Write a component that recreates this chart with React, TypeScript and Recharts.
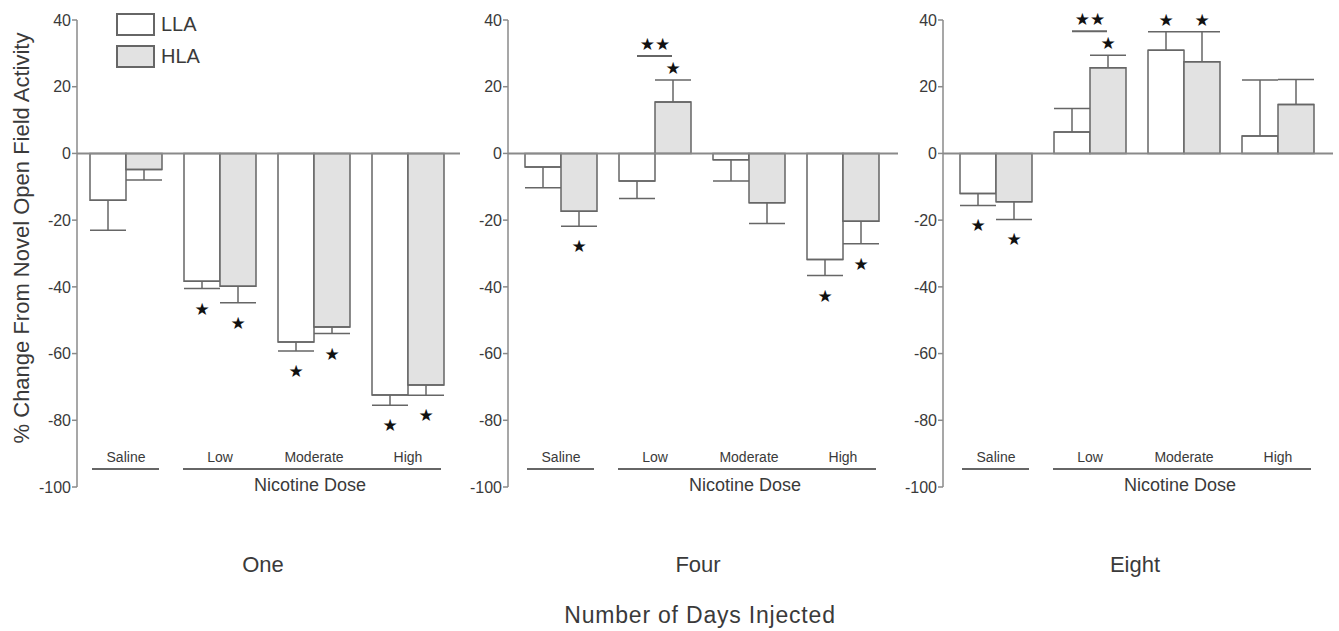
import React from 'react';
import {
  ComposedChart,
  Bar,
  Scatter,
  ErrorBar,
  XAxis,
  YAxis,
  ReferenceLine,
  Legend,
} from 'recharts';

const FONT = '"Liberation Sans", Arial, Helvetica, sans-serif';
const STAR_FONT = '"DejaVu Sans", sans-serif';

const doses = ['Saline', 'Low', 'Moderate', 'High'];
const yTicks = [-100, -80, -60, -40, -20, 0, 20, 40];

// day one
const llaOne = [-14, -38.3, -56.5, -72.4];
const llaOneErr = [9, 2.2, 2.7, 3.1];
const hlaOne = [-4.8, -39.8, -52, -69.4];
const hlaOneErr = [3.2, 5, 2, 3.1];
const llaOneSig = [false, true, true, true];
const hlaOneSig = [false, true, true, true];
const pairOneSig = [false, false, false, false];

// day four
const llaFour = [-4.1, -8.3, -1.9, -31.8];
const llaFourErr = [6.2, 5.2, 6.4, 4.8];
const hlaFour = [-17.3, 15.4, -14.8, -20.3];
const hlaFourErr = [4.5, 6.6, 6.2, 6.8];
const llaFourSig = [false, false, false, true];
const hlaFourSig = [true, true, false, true];
const pairFourSig = [false, true, false, false];

// day eight
const llaEight = [-12, 6.4, 30.9, 5.2];
const llaEightErr = [3.6, 7.1, 5.6, 16.8];
const hlaEight = [-14.5, 25.7, 27.5, 14.7];
const hlaEightErr = [5.3, 3.7, 9, 7.5];
const llaEightSig = [true, false, true, false];
const hlaEightSig = [true, true, true, false];
const pairEightSig = [false, true, false, false];

const PLOT_TOP = 20;
const PLOT_BOTTOM = 487;
const CHART_H = 510;
const BAR_W = 36;
const STROKE = '#666';
const AXIS = '#8a8a8a';
const TEXT = '#3a3a3a';

function tip(v: number, e: number) {
  return v < 0 ? v - e : v + e;
}

function buildRows(
  lla: number[], llaErr: number[], hla: number[], hlaErr: number[],
  llaSig: boolean[], hlaSig: boolean[], pairSig: boolean[]
) {
  return doses.map((dose, i) => {
    const lt = tip(lla[i], llaErr[i]);
    const ht = tip(hla[i], hlaErr[i]);
    return {
      dose,
      lla: lla[i],
      hla: hla[i],
      llaRange: lla[i] < 0 ? [llaErr[i], 0] : [0, llaErr[i]],
      hlaRange: hla[i] < 0 ? [hlaErr[i], 0] : [0, hlaErr[i]],
      llaTip: lt,
      hlaTip: ht,
      pairTip: Math.max(lt, ht),
      llaSig: llaSig[i],
      hlaSig: hlaSig[i],
      pairSig: pairSig[i],
    };
  });
}

const panels = [
  {
    title: 'One',
    rows: buildRows(llaOne, llaOneErr, hlaOne, hlaOneErr, llaOneSig, hlaOneSig, pairOneSig),
    left: 0, axisW: 77, padL: 2, padR: 5, titleX: 263, first: true,
  },
  {
    title: 'Four',
    rows: buildRows(llaFour, llaFourErr, hlaFour, hlaFourErr, llaFourSig, hlaFourSig, pairFourSig),
    left: 448, axisW: 60, padL: 6, padR: 8, titleX: 698, first: false,
  },
  {
    title: 'Eight',
    rows: buildRows(llaEight, llaEightErr, hlaEight, hlaEightErr, llaEightSig, hlaEightSig, pairEightSig),
    left: 883, axisW: 60, padL: 6, padR: 8, titleX: 1135, first: false,
  },
];

function DoseTick(props: any) {
  const { x, payload } = props;
  const v = payload.value;
  const half = 47;
  let line = null;
  if (v === 'Saline') line = [x - 34, x + 33];
  if (v === 'Low') line = [x - 37, x + half];
  if (v === 'Moderate') line = [x - half, x + half];
  if (v === 'High') line = [x - half, x + 33];
  return (
    <g>
      <text x={x} y={462} textAnchor="middle" fontSize={14} fill={TEXT} fontFamily={FONT}>
        {v}
      </text>
      {line && <line x1={line[0]} x2={line[1]} y1={469} y2={469} stroke={STROKE} strokeWidth={2} />}
      {v === 'Moderate' && (
        <text x={x - 4} y={491} textAnchor="middle" fontSize={18} fill={TEXT} fontFamily={FONT}>
          Nicotine Dose
        </text>
      )}
    </g>
  );
}

function makeStar(side: 'lla' | 'hla') {
  return (props: any) => {
    const { cx, cy, payload } = props;
    if (!payload || !payload[side + 'Sig']) return <g />;
    const dx = side === 'lla' ? -BAR_W / 2 : BAR_W / 2;
    const neg = payload[side] < 0;
    const y = neg ? cy + 20 : cy - 12;
    return (
      <text x={cx + dx} y={y} textAnchor="middle" dominantBaseline="central" fontSize={17} fill="#111" fontFamily={STAR_FONT}>
        ★
      </text>
    );
  };
}

function PairMark(props: any) {
  const { cx, cy, payload } = props;
  if (!payload || !payload.pairSig) return <g />;
  return (
    <g>
      <text x={cx} y={cy - 36} textAnchor="middle" dominantBaseline="central" fontSize={17} fill="#111" fontFamily={STAR_FONT}>
        ★★
      </text>
      <line x1={cx - 18} x2={cx + 17} y1={cy - 24} y2={cy - 24} stroke={STROKE} strokeWidth={2} />
    </g>
  );
}

function LegendBox() {
  const items = [
    { name: 'LLA', fill: '#fff' },
    { name: 'HLA', fill: '#e2e2e2' },
  ];
  return (
    <div style={{ fontFamily: FONT }}>
      {items.map((it) => (
        <div key={it.name} style={{ display: 'flex', alignItems: 'center', height: 32 }}>
          <div style={{ width: 35, height: 19, background: it.fill, border: `2px solid ${STROKE}` }} />
          <span style={{ marginLeft: 6, fontSize: 20, color: TEXT }}>{it.name}</span>
        </div>
      ))}
    </div>
  );
}

function YLabel() {
  return (
    <text
      x={21}
      y={238}
      transform="rotate(-90 21 238)"
      textAnchor="middle"
      dominantBaseline="central"
      fontSize={22}
      fill={TEXT}
      fontFamily={FONT}
    >
      % Change From Novel Open Field Activity
    </text>
  );
}

function Panel({ p }: { p: (typeof panels)[number] }) {
  const width = p.axisW + 376 + p.padL + p.padR + 5;
  return (
    <div style={{ position: 'absolute', left: p.left, top: 0 }}>
      <ComposedChart
        width={width}
        height={CHART_H}
        data={p.rows}
        margin={{ top: PLOT_TOP, right: 5, left: 0, bottom: CHART_H - PLOT_BOTTOM - 1 }}
        barGap={0}
        barSize={BAR_W}
      >
        <XAxis
          dataKey="dose"
          height={1}
          axisLine={false}
          tickLine={false}
          interval={0}
          padding={{ left: p.padL, right: p.padR }}
          tick={<DoseTick />}
        />
        <YAxis
          type="number"
          domain={[-100, 40]}
          ticks={yTicks}
          width={p.axisW}
          tickSize={5}
          tickMargin={1}
          tick={{ fontSize: 16, fill: TEXT, fontFamily: FONT }}
          axisLine={{ stroke: AXIS, strokeWidth: 1.5 }}
          tickLine={{ stroke: AXIS, strokeWidth: 1.5 }}
          label={p.first ? <YLabel /> : undefined}
        />
        <ReferenceLine y={0} stroke={AXIS} strokeWidth={2} />
        <Bar dataKey="lla" name="LLA" fill="#fff" stroke={STROKE} strokeWidth={1.5} isAnimationActive={false}>
          <ErrorBar dataKey="llaRange" width={18} stroke={STROKE} strokeWidth={1.5} direction="y" />
        </Bar>
        <Bar dataKey="hla" name="HLA" fill="#e2e2e2" stroke={STROKE} strokeWidth={1.5} isAnimationActive={false}>
          <ErrorBar dataKey="hlaRange" width={18} stroke={STROKE} strokeWidth={1.5} direction="y" />
        </Bar>
        <Scatter dataKey="llaTip" shape={makeStar('lla')} isAnimationActive={false} legendType="none" />
        <Scatter dataKey="hlaTip" shape={makeStar('hla')} isAnimationActive={false} legendType="none" />
        <Scatter dataKey="pairTip" shape={PairMark} isAnimationActive={false} legendType="none" />
        {p.first && (
          <Legend
            layout="vertical"
            align="center"
            verticalAlign="middle"
            content={<LegendBox />}
            wrapperStyle={{ left: 116, top: 8, width: 'auto' }}
          />
        )}
      </ComposedChart>
    </div>
  );
}

export default function App() {
  return (
    <div
      style={{
        position: 'absolute',
        left: 0,
        top: 0,
        width: 1339,
        height: 631,
        background: '#fff',
        fontFamily: FONT,
        color: TEXT,
      }}
    >
      {panels.map((p) => (
        <Panel key={p.title} p={p} />
      ))}
      {panels.map((p) => (
        <div
          key={p.title + '-t'}
          style={{ position: 'absolute', left: p.titleX - 60, top: 552, width: 120, textAlign: 'center', fontSize: 22, lineHeight: '26px' }}
        >
          {p.title}
        </div>
      ))}
      <div
        style={{ position: 'absolute', left: 500, top: 601, width: 400, textAlign: 'center', fontSize: 23, letterSpacing: 0.8, lineHeight: '28px' }}
      >
        Number of Days Injected
      </div>
    </div>
  );
}
